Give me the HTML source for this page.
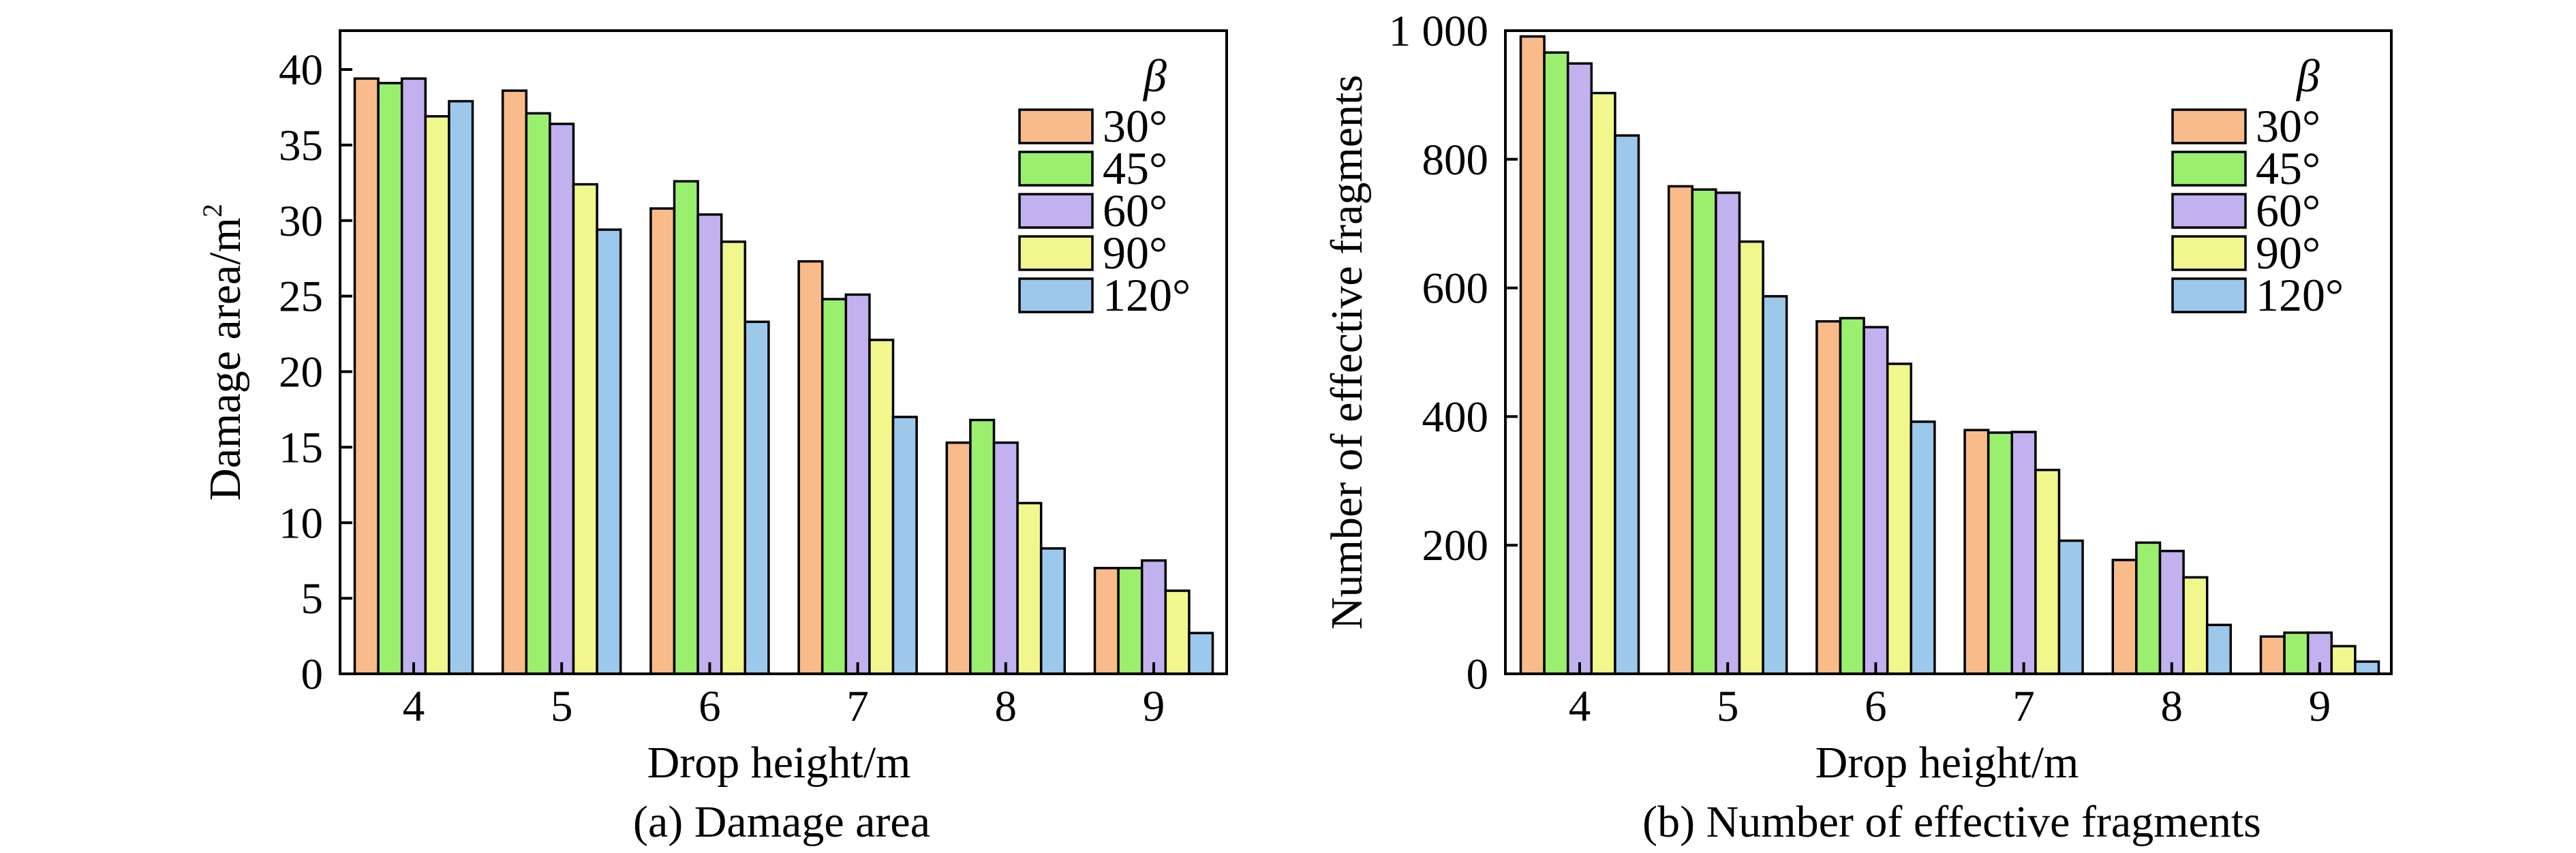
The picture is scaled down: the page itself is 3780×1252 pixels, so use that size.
<!DOCTYPE html>
<html><head><meta charset="utf-8">
<style>
html,body{margin:0;padding:0;background:#fff;}
svg{display:block;}
svg text{font-family:"Liberation Serif","Times New Roman",serif;}
</style></head>
<body>
<svg id="fig" width="3780" height="1252" viewBox="0 0 3780 1252" xmlns="http://www.w3.org/2000/svg"></svg>
<script>
const categories = [4,5,6,7,8,9];
const seriesNames = ["30°","45°","60°","90°","120°"];
const colors = ["#F9BB8A","#9AF06E","#C1B1EE","#F1F78C","#9CC8EC"];
const areaS30 = [39.4,38.6,30.8,27.3,15.3,7.0];
const areaS45 = [39.1,37.1,32.6,24.8,16.8,7.0];
const areaS60 = [39.4,36.4,30.4,25.1,15.3,7.5];
const areaS90 = [36.9,32.4,28.6,22.1,11.3,5.5];
const areaS120 = [37.9,29.4,23.3,17.0,8.3,2.7];
const fragS30 = [991,758,548,379,177,58];
const fragS45 = [966,753,553,375,204,64];
const fragS60 = [949,748,539,376,191,64];
const fragS90 = [903,672,482,317,150,43];
const fragS120 = [837,587,392,207,76,19];
const areaTicks = [0,5,10,15,20,25,30,35,40];
const areaTickLabels = ["0","5","10","15","20","25","30","35","40"];
const fragTicks = [0,200,400,600,800,1000];
const fragTickLabels = ["0","200","400","600","800","1 000"];

const NS="http://www.w3.org/2000/svg";
const svg=document.getElementById('fig');
function mk(tag,attrs,parent){const e=document.createElementNS(NS,tag);for(const k in attrs)e.setAttribute(k,attrs[k]);(parent||svg).appendChild(e);return e;}

function drawChart(cfg){
  const g=mk('g',{});
  
  
  const L=cfg.left,R=cfg.right,T=45,B=989;
  const xc=i=>cfg.x0+i*217.2;
  const y=v=>B-(v-0)*(B-cfg.yTop)/cfg.yMax;
  const bw=34.6;
  cfg.series.forEach((vals,s)=>{
    vals.forEach((v,i)=>{
      const x=xc(i)-2.5*bw+s*bw;
      const r=mk('rect',{x:x,y:y(v),width:bw,height:B-y(v),fill:colors[s],stroke:'#000','stroke-width':3.5},g);
      
      
    });
  });
  const frame=mk('rect',{x:L,y:T,width:R-L,height:B-T,fill:'none',stroke:'#000','stroke-width':4},g);
  
  
  cfg.ticks.forEach((t,k)=>{
    const yy=y(t);
    if(t>0&&yy>T+2) mk('line',{x1:L,x2:L+18,y1:yy,y2:yy,stroke:'#000','stroke-width':4},g);
    const tx=mk('text',{x:cfg.labelX,y:yy+22,'text-anchor':'end','font-size':65},g);
    tx.textContent=cfg.tickLabels[k];
    
    
  });
  categories.forEach((c,i)=>{
    mk('line',{x1:xc(i),x2:xc(i),y1:B,y2:B-17,stroke:'#000','stroke-width':4},g);
    const tx=mk('text',{x:xc(i),y:1058,'text-anchor':'middle','font-size':65},g);
    tx.textContent=c;
    
    
  });
  const xt=mk('text',{x:cfg.xTitleX,y:1141,'text-anchor':'middle','font-size':66},g);
  xt.textContent='Drop height/m';
  
  
  const yt=mk('text',{x:0,y:0,'text-anchor':'middle','font-size':66,transform:'translate('+cfg.yTitleX+',517) rotate(-90)'},g);
  yt.innerHTML=cfg.yTitle;
  
  
  const cap=mk('text',{x:cfg.capX,y:1228,'text-anchor':'middle','font-size':66},g);
  cap.textContent=cfg.caption;
  
  
  const lg=mk('g',{},g);
  
  
  const bt=mk('text',{x:cfg.legX+182,y:134,'font-size':68,'font-style':'italic'},lg);
  bt.textContent='β';
  
  
  seriesNames.forEach((n,s)=>{
    const yy=161+s*62;
    const r=mk('rect',{x:cfg.legX,y:yy,width:107,height:49,fill:colors[s],stroke:'#000','stroke-width':3.5},lg);
    
    
    const t=mk('text',{x:cfg.legX+122,y:yy+47,'font-size':68},lg);
    t.textContent=n;
    
    
  });
}
drawChart({name:'chart-damage-area',left:499,right:1800,x0:607,yTop:102,yMax:40,
  series:[areaS30,areaS45,areaS60,areaS90,areaS120],ticks:areaTicks,tickLabels:areaTickLabels,
  labelX:474,xTitleX:1143,yTitleX:352,yTitle:'Damage area/m<tspan font-size="40" dy="-27">2</tspan>',
  capX:1147,caption:'(a) Damage area',legX:1496});
drawChart({name:'chart-effective-fragments',left:2209,right:3509,x0:2318,yTop:45,yMax:1000,
  series:[fragS30,fragS45,fragS60,fragS90,fragS120],ticks:fragTicks,tickLabels:fragTickLabels,
  labelX:2184,xTitleX:2857,yTitleX:1998,yTitle:'Number of effective fragments',
  capX:2864,caption:'(b) Number of effective fragments',legX:3188});
</script>
</body></html>
